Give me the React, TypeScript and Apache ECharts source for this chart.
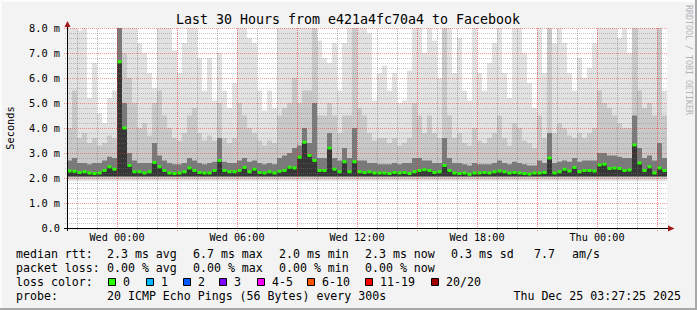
import { useEffect, useRef } from 'react';
import * as echarts from 'echarts';

const FONT = "'DejaVu Sans Mono', monospace";

// time axis: hours relative to Wed 00:00, one sample every 15 minutes
const START_HOUR = -2.5;
const STEP_HOURS = 0.25;
const AXIS_MIN = -2.5;
const AXIS_MAX = 27.5;
const Y_MAX = 8;

// round-trip times in milliseconds
const MEDIAN = [
  2.28, 2.27, 2.22, 2.25, 2.2, 2.18, 2.2, 2.3, 2.45, 2.35,
  6.65, 4.0, 2.5, 2.25, 2.25, 2.2, 2.25, 2.62, 2.45, 2.3,
  2.2, 2.18, 2.2, 2.25, 2.4, 2.3, 2.22, 2.2, 2.2, 2.3,
  2.7, 2.3, 2.25, 2.25, 2.3, 2.42, 2.25, 2.35, 2.22, 2.2,
  2.25, 2.2, 2.27, 2.3, 2.43, 2.4, 2.83, 3.43, 2.9, 2.7,
  2.3, 2.3, 3.2, 2.35, 2.25, 2.65, 2.25, 2.65, 2.25, 2.22,
  2.25, 2.2, 2.2, 2.2, 2.18, 2.22, 2.2, 2.22, 2.18, 2.25,
  2.3, 2.33, 2.3, 2.22, 2.25, 2.5, 2.3, 2.2, 2.18, 2.2,
  2.15, 2.2, 2.2, 2.22, 2.2, 2.25, 2.28, 2.25, 2.2, 2.22,
  2.2, 2.18, 2.16, 2.2, 2.2, 2.22, 2.8, 2.2, 2.25, 2.35,
  2.28, 2.42, 2.25, 2.3, 2.3, 2.28, 2.52, 2.55, 2.38, 2.4,
  2.38, 2.3, 2.32, 3.32, 2.6, 2.3, 2.45, 2.2, 2.4, 2.3,
];
const Q3 = [
  2.7, 2.8, 2.6, 2.6, 2.55, 2.6, 2.6, 2.7, 2.85, 2.8,
  8.0, 5.0, 3.0, 2.7, 2.6, 2.6, 2.6, 3.4, 2.9, 2.7,
  2.6, 2.55, 2.55, 2.6, 2.8, 2.7, 2.6, 2.55, 2.6, 2.65,
  3.6, 2.65, 2.6, 2.6, 2.7, 2.8, 2.65, 2.7, 2.6, 2.55,
  2.6, 2.55, 2.8, 2.9, 3.0, 3.2, 3.3, 4.0, 3.4, 5.0,
  2.8, 2.8, 3.8, 2.8, 2.7, 3.2, 2.8, 4.0, 2.7, 2.7,
  2.6, 2.6, 2.55, 2.55, 2.55, 2.6, 2.55, 2.6, 2.6, 2.8,
  2.8, 2.7, 2.7, 2.6, 2.6, 3.6, 2.8, 2.6, 2.6, 2.55,
  2.5, 2.6, 2.55, 2.55, 2.55, 2.6, 2.7, 2.6, 2.55, 2.65,
  2.6, 2.55, 2.5, 2.5, 2.7, 2.6, 3.8, 2.6, 2.65, 2.7,
  2.65, 2.8, 2.65, 2.7, 2.7, 2.7, 3.0, 3.0, 2.9, 2.9,
  2.85, 2.8, 2.8, 4.5, 3.2, 2.8, 2.9, 2.7, 3.4, 2.8,
];
const P90 = [
  4.0, 5.5, 3.6, 3.8, 3.4, 3.6, 3.3, 3.4, 3.7, 3.6,
  8.0, 7.0, 6.0, 5.0, 4.0, 4.2, 3.7, 5.0, 5.5, 4.5,
  4.0, 3.6, 3.5, 3.8, 4.5, 4.8, 3.8, 3.5, 3.7, 3.5,
  5.0, 3.6, 3.4, 3.6, 5.0, 4.5, 4.0, 3.8, 3.5, 3.3,
  3.5, 3.4, 4.5, 4.8, 5.0, 6.0, 5.0, 5.5, 5.5, 8.0,
  4.5, 4.5, 5.0, 4.5, 3.8, 4.5, 4.5, 8.0, 4.8, 4.5,
  3.8, 3.5, 3.6, 3.6, 3.4, 3.6, 3.3, 3.4, 3.6, 5.0,
  4.5, 3.8, 4.5, 3.8, 3.6, 8.0, 4.5, 3.6, 3.8, 3.4,
  3.3, 4.0, 3.5, 3.4, 3.6, 3.8, 4.5, 3.6, 3.3, 4.2,
  4.0, 3.5, 3.4, 3.2, 4.5, 3.6, 8.0, 3.8, 4.2, 4.0,
  3.7, 3.6, 3.8, 3.6, 3.8, 4.0, 5.5, 5.0, 4.8, 4.5,
  4.2, 4.0, 4.0, 8.0, 5.5, 4.8, 5.0, 4.5, 8.0, 4.5,
];
const MAX = [
  8.0, 8.0, 7.9, 8.0, 5.2, 6.6, 4.6, 4.2, 5.2, 5.5,
  8.0, 8.0, 8.0, 8.0, 7.4, 7.0, 6.2, 5.6, 8.0, 8.0,
  8.0, 7.1, 6.2, 7.4, 8.0, 8.0, 6.8, 5.5, 6.8, 5.1,
  7.0, 5.5, 4.8, 5.8, 8.0, 8.0, 7.6, 7.4, 5.5, 4.7,
  5.5, 4.8, 8.0, 8.0, 8.0, 8.0, 8.0, 8.0, 8.0, 8.0,
  7.5, 6.8, 6.6, 7.4, 5.5, 7.4, 8.0, 8.0, 8.0, 8.0,
  7.8, 5.1, 6.2, 6.5, 5.5, 6.2, 5.0, 5.1, 6.3, 8.0,
  8.0, 7.0, 8.0, 7.5, 6.0, 8.0, 8.0, 6.2, 7.6, 5.5,
  5.1, 8.0, 6.2, 5.5, 6.6, 7.4, 8.0, 6.2, 5.2, 8.0,
  8.0, 7.0, 5.8, 4.8, 8.0, 6.2, 8.0, 7.4, 8.0, 7.4,
  6.2, 5.5, 6.8, 6.0, 6.4, 7.4, 8.0, 8.0, 8.0, 8.0,
  7.6, 8.0, 7.0, 8.0, 8.0, 8.0, 8.0, 8.0, 8.0, 5.5,
];
const LIGHT_FLOOR = 1.88;
const MID_FLOOR = 1.95;
const DARK_FLOOR = 2.04;
const CORE_FLOOR = 2.08;

const X_LABEL_HOURS = [0, 6, 12, 18, 24];
const X_LABEL_TEXTS = ['Wed 00:00', 'Wed 06:00', 'Wed 12:00', 'Wed 18:00', 'Thu 00:00'];
const V_GRID_HOURS = [
  -2, -1, 0, 1, 2, 3, 4, 5, 6, 7, 8, 9, 10, 11, 12, 13, 14, 15, 16, 17,
  18, 19, 20, 21, 22, 23, 24, 25, 26, 27,
];
const H_GRID_STEPS = Array.from({ length: 40 }, (_, k) => k + 1); // 0.2 ms steps

const TITLE = 'Last 30 Hours from e421a4fc70a4 to Facebook';
const Y_NAME = 'Seconds';
const WATERMARK = 'RRDTOOL / TOBI OETIKER';
const ROW_LABELS = ['median rtt:', 'packet loss:', 'loss color:', 'probe:'];
const RTT_STATS = ['2.3 ms avg', '6.7 ms max', '2.0 ms min', '2.3 ms now', '0.3 ms sd'];
const RTT_EXTRA = ['7.7', 'am/s'];
const LOSS_STATS = ['0.00 % avg', '0.00 % max', '0.00 % min', '0.00 % now'];
const LOSS_LABELS = ['0', '1', '2', '3', '4-5', '6-10', '11-19', '20/20'];
const LOSS_COLORS = ['#26ff00', '#00b8ff', '#0059ff', '#7e00ff', '#ff00ff', '#ff5500', '#ff0000', '#a10000'];
const PROBE_TEXT = '20 ICMP Echo Pings (56 Bytes) every 300s';
const DATE_TEXT = 'Thu Dec 25 03:27:25 2025';

// layout
const W = 697;
const H = 310;
const GRID_LEFT = 67;
const GRID_TOP = 28;
const GRID_W = 600;
const GRID_H = 200;
const STAT_X = [107, 193, 279, 365, 451];
const EXTRA_X = [534, 572];
const BOX_X = [108, 146, 183, 219, 257, 307, 365, 431];
const ROW_Y = [254, 268, 282, 296];
const LEG_FS = 11.6;
const MAJOR_GRID = 'rgba(240,50,50,0.5)';
const MINOR_GRID = 'rgba(120,120,120,0.42)';
const MAJOR_VGRID = 'rgba(240,40,40,0.6)';
const MINOR_VGRID = 'rgba(110,110,110,0.5)';

function txt(x: number, y: number, s: string, fs: number, extra: any = {}) {
  return {
    type: 'text',
    x,
    y,
    silent: true,
    style: {
      text: s,
      fill: '#000',
      fontFamily: FONT,
      fontSize: fs,
      align: 'left',
      verticalAlign: 'middle',
      ...extra,
    },
  };
}

export default function App() {
  const ref = useRef<HTMLDivElement>(null);

  useEffect(() => {
    if (!ref.current) return;
    const chart = echarts.init(ref.current, null, { renderer: 'svg', width: W, height: H });

    const smokeData = MEDIAN.map((m, i) => [START_HOUR + STEP_HOURS * i, m, Q3[i], P90[i], MAX[i]]);

    const graphic: any[] = [];
    // 3D frame
    graphic.push({ type: 'rect', silent: true, shape: { x: 0, y: 0, width: W, height: 2 }, style: { fill: '#fcfcfc' } });
    graphic.push({ type: 'rect', silent: true, shape: { x: 0, y: 0, width: 2, height: H }, style: { fill: '#fcfcfc' } });
    graphic.push({ type: 'rect', silent: true, shape: { x: 0, y: H - 2, width: W, height: 2 }, style: { fill: '#a8a8a8' } });
    graphic.push({ type: 'rect', silent: true, shape: { x: W - 2, y: 0, width: 2, height: H }, style: { fill: '#a8a8a8' } });
    // axis lines and arrows
    graphic.push({
      type: 'rect', silent: true, z: 10,
      shape: { x: GRID_LEFT, y: GRID_TOP - 2, width: 1, height: GRID_H + 5 },
      style: { fill: '#000' },
    });
    graphic.push({
      type: 'rect', silent: true, z: 10,
      shape: { x: GRID_LEFT - 3, y: GRID_TOP + GRID_H, width: GRID_W + 5, height: 1 },
      style: { fill: '#000' },
    });
    graphic.push({
      type: 'polygon', silent: true, z: 11,
      shape: { points: [[GRID_LEFT + 0.5, GRID_TOP - 7], [GRID_LEFT - 2.5, GRID_TOP - 1], [GRID_LEFT + 3.5, GRID_TOP - 1]] },
      style: { fill: '#a01818' },
    });
    graphic.push({
      type: 'polygon', silent: true, z: 11,
      shape: { points: [[GRID_LEFT + GRID_W + 7.5, GRID_TOP + GRID_H + 0.5], [GRID_LEFT + GRID_W + 1, GRID_TOP + GRID_H - 2.5], [GRID_LEFT + GRID_W + 1, GRID_TOP + GRID_H + 3.5]] },
      style: { fill: '#a01818' },
    });
    // title
    graphic.push(txt(W / 2 - 0.5, 19, TITLE, 13.3, { align: 'center' }));
    // y name
    graphic.push({ ...txt(10, GRID_TOP + GRID_H / 2, Y_NAME, 10.3, { align: 'center' }), rotation: Math.PI / 2 });
    // watermark
    graphic.push({ ...txt(689, 5, WATERMARK, 8.3, { fill: '#b4b4b4' }), rotation: -Math.PI / 2 });
    // legend rows
    ROW_LABELS.forEach((s, r) => graphic.push(txt(16, ROW_Y[r], s, LEG_FS)));
    RTT_STATS.forEach((s, i) => graphic.push(txt(STAT_X[i], ROW_Y[0], s, LEG_FS)));
    RTT_EXTRA.forEach((s, i) => graphic.push(txt(EXTRA_X[i], ROW_Y[0], s, LEG_FS)));
    LOSS_STATS.forEach((s, i) => graphic.push(txt(STAT_X[i], ROW_Y[1], s, LEG_FS)));
    LOSS_LABELS.forEach((s, i) => {
      graphic.push({
        type: 'rect', silent: true,
        shape: { x: BOX_X[i] + 0.5, y: ROW_Y[2] - 3.5, width: 7, height: 7 },
        style: { fill: LOSS_COLORS[i], stroke: '#000', lineWidth: 1 },
      });
      graphic.push(txt(BOX_X[i] + 15, ROW_Y[2], s, LEG_FS));
    });
    graphic.push(txt(STAT_X[0], ROW_Y[3], PROBE_TEXT, LEG_FS));
    graphic.push(txt(681, ROW_Y[3], DATE_TEXT, LEG_FS, { align: 'right' }));

    const option: any = {
      animation: false,
      backgroundColor: '#f3f3f3',
      grid: {
        left: GRID_LEFT, top: GRID_TOP, width: GRID_W, height: GRID_H,
        show: true, backgroundColor: '#ffffff', borderWidth: 0,
      },
      xAxis: {
        type: 'value', min: AXIS_MIN, max: AXIS_MAX,
        axisLine: { show: false },
        axisTick: { show: false },
        splitLine: { show: false },
        axisLabel: {
          customValues: X_LABEL_HOURS,
          formatter: (v: number) => {
            const k = X_LABEL_HOURS.indexOf(Math.round(v));
            return k >= 0 ? X_LABEL_TEXTS[k] : '';
          },
          fontFamily: FONT, fontSize: 10.2, color: '#000', margin: 4,
        },
      },
      yAxis: {
        type: 'value', min: 0, max: Y_MAX, interval: 1,
        axisLine: { show: false },
        axisTick: { show: false },
        splitLine: { show: false },
        axisLabel: {
          formatter: (v: number) => (v === 0 ? '0.0' : `${v.toFixed(1)} m`),
          fontFamily: FONT, fontSize: 10.3, color: '#000', margin: 7,
        },
      },
      graphic,
      series: [
        {
          type: 'custom', name: 'smoke', z: 1, silent: true,
          encode: { x: 0, y: [1, 2, 3, 4] },
          data: smokeData,
          renderItem: (_p: any, api: any) => {
            const t = api.value(0);
            const xa = api.coord([t, 0])[0];
            const xb = api.coord([t + STEP_HOURS, 0])[0];
            const yv = (v: number) => api.coord([t, v])[1];
            const band = (lo: number, hi: number, fill: string) => ({
              type: 'rect',
              shape: { x: xa, y: yv(hi), width: xb - xa, height: yv(lo) - yv(hi) },
              style: { fill },
            });
            return {
              type: 'group',
              children: [
                band(LIGHT_FLOOR, api.value(4), '#e2e2e2'),
                band(MID_FLOOR, api.value(3), '#c9c9c9'),
                band(DARK_FLOOR, api.value(2), '#7a7a7a'),
                band(CORE_FLOOR, api.value(1), '#363636'),
              ],
            };
          },
        },
        {
          type: 'custom', name: 'hgrid', z: 3, silent: true, clip: false,
          encode: { x: 0, y: 1 },
          data: H_GRID_STEPS.map((k) => [0, k / 5, k]),
          renderItem: (_p: any, api: any) => {
            const v = api.value(1);
            const k = api.value(2);
            const p0 = api.coord([AXIS_MIN, v]);
            const p1 = api.coord([AXIS_MAX, v]);
            const major = k % 5 === 0;
            return {
              type: 'line',
              shape: { x1: p0[0] - (major ? 3 : 2), y1: p0[1] + 0.5, x2: p1[0], y2: p1[1] + 0.5 },
              style: { stroke: major ? MAJOR_GRID : MINOR_GRID, lineWidth: 1, lineDash: [1, 1] },
            };
          },
        },
        {
          type: 'custom', name: 'median', z: 4, silent: true,
          encode: { x: 0, y: 1 },
          data: MEDIAN.map((m, i) => [START_HOUR + STEP_HOURS * i, m]),
          renderItem: (_p: any, api: any) => {
            const t = api.value(0);
            const a = api.coord([t, api.value(1)]);
            const b = api.coord([t + STEP_HOURS, api.value(1)]);
            return {
              type: 'rect',
              shape: { x: a[0] + 0.5, y: a[1] - 1.5, width: b[0] - a[0] - 1, height: 3 },
              style: { fill: '#26ff00' },
            };
          },
        },
      ],
    };

    chart.setOption(option);

    // vertical grid lines, placed through the cartesian scale of grid 0
    const vlines: any[] = [];
    V_GRID_HOURS.forEach((h) => {
      const top = chart.convertToPixel({ gridIndex: 0 }, [h, Y_MAX]) as any;
      const bottom = chart.convertToPixel({ gridIndex: 0 }, [h, 0]) as any;
      if (!top || !bottom || !isFinite(top[0])) return;
      const major = h % 3 === 0;
      vlines.push({
        type: 'line',
        silent: true,
        z: 5,
        shape: { x1: top[0] + 0.5, y1: bottom[1] + (major ? 3 : 2), x2: top[0] + 0.5, y2: top[1] },
        style: { stroke: major ? MAJOR_VGRID : MINOR_VGRID, lineWidth: 1, lineDash: [1, 1] },
      });
    });
    chart.setOption({ graphic: [...graphic, ...vlines] });

    return () => chart.dispose();
  }, []);

  return (
    <div
      ref={ref}
      style={{ position: 'absolute', left: 0, top: 0, width: W, height: H }}
    />
  );
}
